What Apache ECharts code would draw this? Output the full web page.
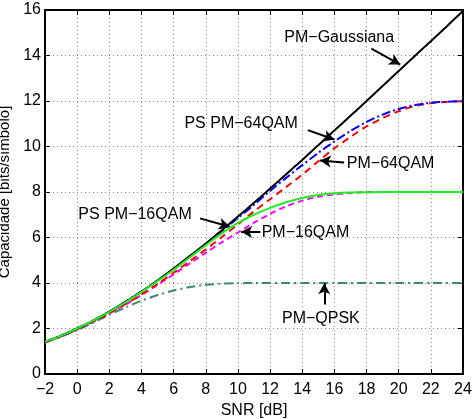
<!DOCTYPE html>
<html>
<head>
<meta charset="utf-8">
<script src="https://cdn.jsdelivr.net/npm/echarts@6/dist/echarts.min.js"></script>
<style>
  html, body { margin: 0; padding: 0; background: #fff; }
  #chart { width: 472px; height: 419px; }
</style>
</head>
<body>
<div id="chart"></div>
<script>
"use strict";

// SNR [dB], passo de 1 dB
const snr = [-2, -1, 0, 1, 2, 3, 4, 5, 6, 7, 8, 9, 10, 11, 12, 13, 14, 15, 16, 17, 18, 19, 20, 21, 22, 23, 24];

// curvas (bits/símbolo)
const gaussiana = [1.41, 1.69, 2.00, 2.35, 2.74, 3.17, 3.62, 4.11, 4.63, 5.18, 5.74, 6.32, 6.92, 7.53, 8.15, 8.78, 9.41, 10.06, 10.70, 11.35, 12.00, 12.66, 13.32, 13.98, 14.63, 15.29, 15.96];
const ps64qam   = [1.41, 1.69, 2.00, 2.35, 2.74, 3.17, 3.62, 4.11, 4.62, 5.16, 5.71, 6.28, 6.86, 7.44, 8.05, 8.62, 9.18, 9.72, 10.22, 10.68, 11.08, 11.40, 11.65, 11.82, 11.92, 11.97, 11.99];
const pm64qam   = [1.39, 1.66, 1.96, 2.30, 2.67, 3.07, 3.50, 3.96, 4.45, 4.96, 5.48, 6.02, 6.58, 7.15, 7.68, 8.22, 8.76, 9.35, 9.92, 10.42, 10.88, 11.25, 11.55, 11.78, 11.90, 11.96, 11.99];
const ps16qam   = [1.41, 1.69, 2.00, 2.35, 2.73, 3.15, 3.60, 4.08, 4.58, 5.12, 5.66, 6.18, 6.64, 7.00, 7.30, 7.55, 7.74, 7.87, 7.94, 7.98, 7.99, 8.00, 8.00, 8.00, 8.00, 8.00, 8.00];
const pm16qam   = [1.39, 1.66, 1.96, 2.30, 2.66, 3.05, 3.47, 3.92, 4.38, 4.86, 5.33, 5.79, 6.22, 6.65, 7.04, 7.37, 7.62, 7.80, 7.90, 7.96, 7.99, 8.00, 8.00, 8.00, 8.00, 8.00, 8.00];
const pmqpsk    = [1.38, 1.64, 1.93, 2.26, 2.60, 2.92, 3.22, 3.47, 3.67, 3.82, 3.92, 3.97, 3.99, 4.00, 4.00, 4.00, 4.00, 4.00, 4.00, 4.00, 4.00, 4.00, 4.00, 4.00, 4.00, 4.00, 4.00];

// anotações: texto, posição do texto, seta (de -> até), em coordenadas dos dados
const notas = [
  { text: "PM\u2212Gaussiana", at: [16.3, 14.8], from: [18.3, 14.3], to: [20.1, 13.6] },
  { text: "PS PM\u221264QAM",  at: [10.2, 11.0], from: [14.35, 10.72], to: [16.0, 10.31] },
  { text: "PM\u221264QAM",     at: [19.5, 9.26], from: [16.6, 9.3], to: [15.1, 9.38] },
  { text: "PS PM\u221216QAM",  at: [3.6, 6.99],  from: [7.64, 6.84], to: [9.5, 6.47] },
  { text: "PM\u221216QAM",     at: [14.2, 6.23], from: [11.4, 6.24], to: [10.2, 6.25] },
  { text: "PM\u2212QPSK",      at: [15.16, 2.44], from: [15.37, 3.05], to: [15.37, 3.99] }
];

const FONT = "Liberation Sans, Arial, Helvetica, sans-serif";
const menos = v => String(v).replace("-", "\u2212");

function serie(name, ys, color, type, z) {
  return {
    name, type: "line", data: snr.map((x, i) => [x, ys[i]]),
    symbol: "none", smooth: 0.3, z: z,
    lineStyle: { color, width: 2, type },
    itemStyle: { color }
  };
}

const chart = echarts.init(document.getElementById("chart"), null, { renderer: "canvas" });

const eixoComum = {
  axisLine: { show: true, onZero: false, lineStyle: { color: "#000", width: 2 } },
  axisTick: { show: true, inside: true, length: 5, lineStyle: { color: "#000", width: 1 } }
};
const grade = { show: true, lineStyle: { color: "#888", type: [1, 3], width: 1 } };

const option = {
  backgroundColor: "#fff",
  animation: false,
  grid: { left: 45, right: 9, top: 10, bottom: 45, outerBoundsMode: "none", containLabel: false },
  xAxis: [
    {
      ...eixoComum,
      type: "value", min: -2, max: 24, interval: 2,
      name: "SNR [dB]", nameLocation: "middle", nameGap: 27,
      nameTextStyle: { color: "#000", fontSize: 16, fontFamily: FONT },
      axisLabel: { color: "#000", fontSize: 16, fontFamily: FONT, margin: 8, formatter: menos },
      splitLine: grade
    },
    {
      ...eixoComum,
      type: "value", position: "top", min: -2, max: 24, interval: 2,
      axisLabel: { show: false }, splitLine: { show: false }
    }
  ],
  yAxis: [
    {
      ...eixoComum,
      type: "value", min: 0, max: 16, interval: 2,
      name: "Capacidade [bits/símbolo]", nameLocation: "middle", nameGap: 28,
      nameTextStyle: { color: "#000", fontSize: 15, fontFamily: FONT },
      axisLabel: { color: "#000", fontSize: 16, fontFamily: FONT, margin: 4 },
      splitLine: grade
    },
    {
      ...eixoComum,
      type: "value", position: "right", min: 0, max: 16, interval: 2,
      axisLabel: { show: false }, splitLine: { show: false }
    }
  ],
  series: [
    serie("PM-QPSK", pmqpsk, "#3d8a68", [9, 4, 2, 4], 2),
    serie("PM-16QAM", pm16qam, "#ff00ff", [6, 4], 3),
    serie("PM-64QAM", pm64qam, "#ff0000", [7, 5], 4),
    serie("PS PM-64QAM", ps64qam, "#0000ff", [9, 3, 2, 3], 5),
    serie("PM-Gaussiana", gaussiana, "#000000", "solid", 6),
    serie("PS PM-16QAM", ps16qam, "#22ee22", "solid", 7),
    {
      name: "notas", type: "line", data: [], z: 10,
      markLine: {
        silent: true, animation: false,
        symbol: ["none", "arrow"], symbolSize: [9, 11],
        lineStyle: { color: "#000", width: 2, type: "solid" },
        label: { show: false },
        data: notas.map(n => [{ coord: n.from }, { coord: n.to }])
      },
      markPoint: {
        silent: true, animation: false,
        symbol: "rect", symbolSize: 0,
        label: { show: true, color: "#000", fontSize: 16, fontFamily: FONT, formatter: "{b}" },
        data: notas.map(n => ({ name: n.text, coord: n.at }))
      }
    }
  ]
};

chart.setOption(option);
</script>
</body>
</html>
